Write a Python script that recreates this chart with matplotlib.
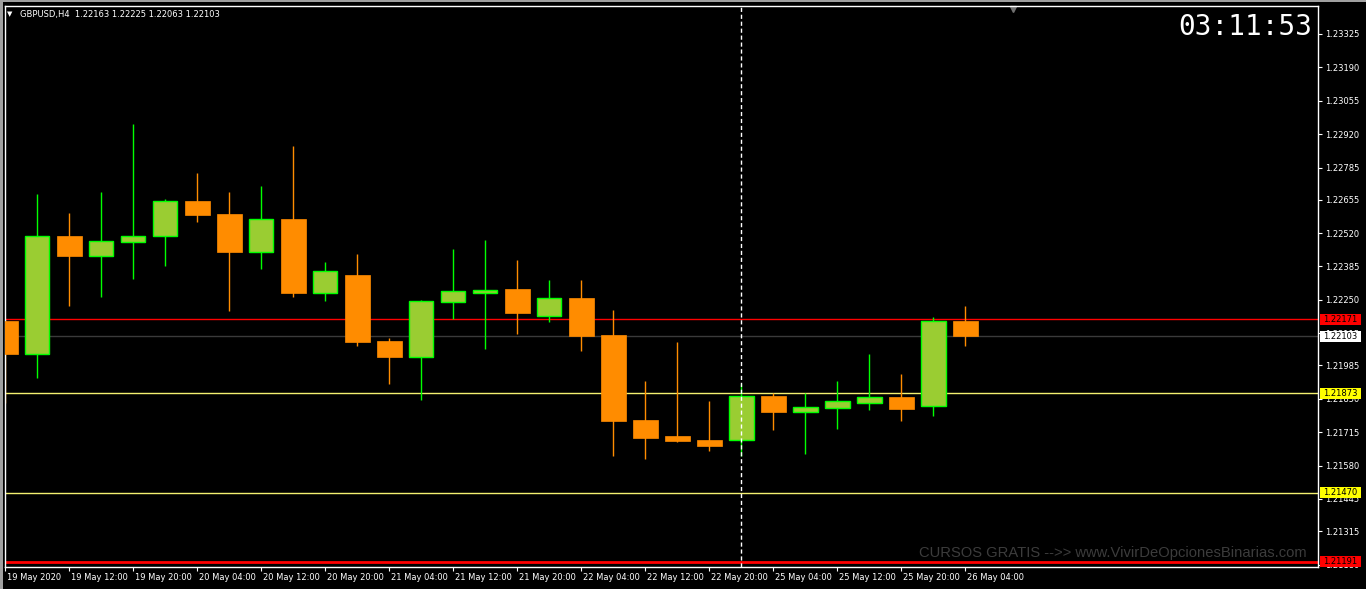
import numpy as np
import matplotlib
matplotlib.use('Agg')
from matplotlib import pyplot as plt
from matplotlib import transforms
from matplotlib.patches import Rectangle

# GBPUSD H4 candles
bar_labels = ['19 May 2020', '19 May 12:00', '19 May 20:00', '20 May 04:00', '20 May 12:00',
              '20 May 20:00', '21 May 04:00', '21 May 12:00', '21 May 20:00', '22 May 04:00',
              '22 May 12:00', '22 May 20:00', '25 May 04:00', '25 May 12:00', '25 May 20:00',
              '26 May 04:00']
opens = np.array([1.22164, 1.22031, 1.22508, 1.22427, 1.22485, 1.22508, 1.22650, 1.22597,
                  1.22443, 1.22577, 1.22278, 1.22350, 1.22084, 1.22019, 1.22241, 1.22279,
                  1.22294, 1.22185, 1.22257, 1.22108, 1.21764, 1.21699, 1.21683, 1.21683,
                  1.21861, 1.21796, 1.21813, 1.21833, 1.21857, 1.21821, 1.22163])
highs = np.array([1.22170, 1.22678, 1.22601, 1.22686, 1.22961, 1.22658, 1.22763, 1.22686,
                  1.22710, 1.22872, 1.22403, 1.22435, 1.22096, 1.22249, 1.22456, 1.22492,
                  1.22411, 1.22330, 1.22330, 1.22209, 1.21922, 1.22079, 1.21841, 1.21910,
                  1.21873, 1.21873, 1.21922, 1.22031, 1.21950, 1.22181, 1.22225])
lows = np.array([1.21833, 1.21934, 1.22225, 1.22261, 1.22334, 1.22387, 1.22565, 1.22205,
                 1.22375, 1.22261, 1.22245, 1.22063, 1.21910, 1.21845, 1.22173, 1.22051,
                 1.22112, 1.22160, 1.22043, 1.21618, 1.21606, 1.21675, 1.21639, 1.21618,
                 1.21724, 1.21627, 1.21728, 1.21804, 1.21760, 1.21780, 1.22063])
closes = np.array([1.22031, 1.22508, 1.22427, 1.22488, 1.22508, 1.22650, 1.22593, 1.22443,
                   1.22577, 1.22278, 1.22367, 1.22079, 1.22019, 1.22245, 1.22286, 1.22290,
                   1.22197, 1.22257, 1.22104, 1.21760, 1.21691, 1.21679, 1.21659, 1.21861,
                   1.21796, 1.21817, 1.21841, 1.21857, 1.21809, 1.22164, 1.22103])

price_ticks = [1.23325, 1.23190, 1.23055, 1.22920, 1.22785, 1.22655, 1.22520, 1.22385,
               1.22250, 1.22115, 1.21985, 1.21850, 1.21715, 1.21580, 1.21445, 1.21315, 1.21180]

# horizontal levels and their price tags
levels = [1.22171, 1.22103, 1.21873, 1.21470, 1.21191]
level_colors = ['#ff0000', '#3a3a3a', '#f4f070', '#f4f070', '#ff0000']
level_widths = [1, 1, 1, 1, 2]
tag_colors = ['#ff0000', '#ffffff', '#ffff00', '#ffff00', '#ff0000']

header = 'GBPUSD,H4  1.22163 1.22225 1.22063 1.22103'
clock = '03:11:53'
watermark = 'CURSOS GRATIS -->> www.VivirDeOpcionesBinarias.com'

W, H = 1366, 589
fig = plt.figure(figsize=(W / 100, H / 100), dpi=100, facecolor='black')
ax = fig.add_axes([5 / W, 22 / H, 1313 / W, 561 / H])
ax.set_facecolor('black')

x = np.arange(len(opens))
up = closes >= opens
wick_cols = np.where(up, '#00ff00', '#ff8c00')
ax.vlines(x, lows, highs, colors=wick_cols, linewidth=1, zorder=2)
ax.bar(x[up], closes[up] - opens[up], bottom=opens[up], width=0.76,
       color='#9acd32', edgecolor='#00ff00', linewidth=1, zorder=3)
ax.bar(x[~up], opens[~up] - closes[~up], bottom=closes[~up], width=0.78,
       color='#ff8c00', edgecolor='#ff8c00', linewidth=0.5, zorder=3)

for lv, c, lw in zip(levels, level_colors, level_widths):
    ax.axhline(lv, color=c, linewidth=lw, zorder=1)

# dashed separator
ax.axvline(23, color='white', linewidth=1, linestyle=(0, (3, 2)), zorder=4)

ax.set_xlim(-0.01, 41.02)
ax.set_ylim(1.21170, 1.23438)

for s in ax.spines.values():
    s.set_color('white')
    s.set_linewidth(1)

ax.set_xticks(x[::2])
ax.set_xticklabels(bar_labels)
ax.tick_params(axis='x', direction='out', length=3, colors='white', labelsize=6, pad=1)
shift = transforms.ScaledTranslation(2 / 100, 0, fig.dpi_scale_trans)
for lab in ax.get_xticklabels():
    lab.set_ha('left')
    lab.set_transform(lab.get_transform() + shift)

ax.yaxis.tick_right()
ax.set_yticks(price_ticks)
ax.set_yticklabels(['%.5f' % p for p in price_ticks])
ax.tick_params(axis='y', direction='out', length=3, colors='white', labelsize=6, pad=2)

# price tags on the right scale
bt = transforms.blended_transform_factory(ax.transAxes, ax.transData)
px = (1.23438 - 1.21170) / 561
for lv, c in zip(levels, tag_colors):
    ax.add_patch(Rectangle((1.0015, lv - 5.5 * px), 41 / 1313, 11 * px, transform=bt,
                           facecolor=c, edgecolor='none', clip_on=False, zorder=10))
    ax.text(1.0015 + 20.5 / 1313, lv, '%.5f' % lv, transform=bt, ha='center',
            va='center', fontsize=6, color='black', zorder=11, clip_on=False)

ax.plot([(1013 - 5) / 1313], [0.995], marker='v', color='#707070', markersize=5,
        transform=ax.transAxes, clip_on=False)

fig.text(10 / W, 1 - 14 / H, '\u25bc', fontsize=5, color='white', ha='center', va='center')
fig.text(20 / W, 1 - 14 / H, header, fontsize=6, color='white', ha='left', va='center')
fig.text(1312 / W, 1 - 27 / H, clock, fontsize=20, color='white', ha='right', va='center',
         family='DejaVu Sans Mono')
fig.text(1307 / W, 1 - 557 / H, watermark, fontsize=10.6, color='#3c3c3c', ha='right',
         va='baseline', family='Liberation Sans')

# window frame strips
fig.patches.append(Rectangle((0, 0), 3 / W, 1, transform=fig.transFigure,
                             facecolor='#a0a0a0', edgecolor='none'))
fig.patches.append(Rectangle((0, 1 - 2 / H), 1, 2 / H, transform=fig.transFigure,
                             facecolor='#a0a0a0', edgecolor='none'))

fig.savefig('out.png', dpi=100, facecolor='black')
